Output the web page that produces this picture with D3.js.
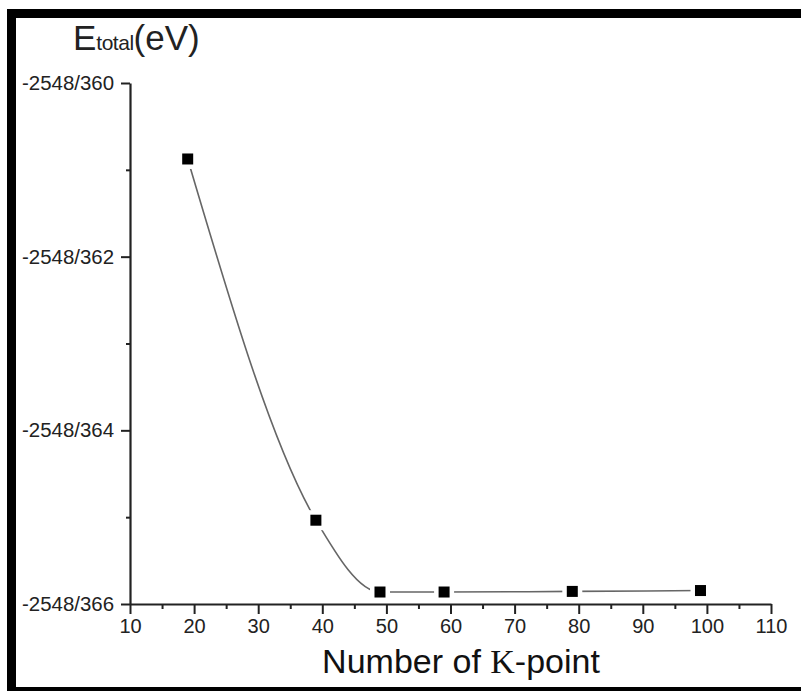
<!DOCTYPE html>
<html>
<head>
<meta charset="utf-8">
<script src="https://cdn.jsdelivr.net/npm/d3@7/dist/d3.min.js"></script>
<style>
html,body{margin:0;padding:0;background:#fff;}
svg{display:block;}
</style>
</head>
<body>
<svg id="chart" width="801" height="691"></svg>
<script>
// Data
const kPoints = [19, 39, 49, 59, 79, 99];
const eTotal = [-2548.360875, -2548.365035, -2548.365862, -2548.365862, -2548.365855, -2548.365845];
const xTickValues = [10, 20, 30, 40, 50, 60, 70, 80, 90, 100, 110];
const xMinorTicks = [15, 25, 35, 45, 55, 65, 75, 85, 95, 105];
const yTickValues = [-2548.366, -2548.364, -2548.362, -2548.360];
const yMinorTicks = [-2548.365, -2548.363, -2548.361];
const xTitle = ["Number of ", "K", "-point"];
const yTitle = ["E", "total", "(eV)"];

const svg = d3.select("#chart");
const font = "'Liberation Sans', Arial, sans-serif";

// frame
svg.append("rect").attr("x", 11.5).attr("y", 13.5).attr("width", 800).attr("height", 678)
  .attr("fill", "#fff").attr("stroke", "#000").attr("stroke-width", 9);

const x = d3.scaleLinear().domain([10, 110]).range([130, 771]);
const y = d3.scaleLinear().domain([-2548.366, -2548.360]).range([604, 83]);

const fmtY = d => d3.format(".3f")(d).replace(".", "/").replace("\u2212", "-");

// curve
const data = kPoints.map((k, i) => ({k, e: eTotal[i]}));
const line = d3.line().x(d => x(d.k)).y(d => y(d.e)).curve(d3.curveMonotoneX);
svg.append("path").datum(data).attr("d", line)
  .attr("fill", "none").attr("stroke", "#666").attr("stroke-width", 1.6);

// gaps around markers
svg.selectAll("rect.gap").data(data).enter().append("rect").attr("class", "gap")
  .attr("x", d => x(d.k) - 10).attr("y", d => y(d.e) - 10)
  .attr("width", 20).attr("height", 20).attr("fill", "#fff");

// x axis
const gx = svg.append("g").attr("transform", "translate(0,604)");
gx.call(d3.axisBottom(x).tickValues(xTickValues).tickSize(10).tickSizeOuter(0).tickPadding(5).tickFormat(d3.format("d")));
gx.select(".domain").attr("stroke", "#222").attr("stroke-width", 2.2);
gx.selectAll(".tick line").attr("stroke", "#222").attr("stroke-width", 2);
gx.selectAll(".tick text").attr("font-family", font).attr("font-size", 20).attr("fill", "#222");
const gxm = svg.append("g").attr("transform", "translate(0,604)");
gxm.call(d3.axisBottom(x).tickValues(xMinorTicks).tickSize(5).tickFormat(""));
gxm.select(".domain").remove();
gxm.selectAll(".tick line").attr("stroke", "#222").attr("stroke-width", 2);

// y axis
const gy = svg.append("g").attr("transform", "translate(130,0)");
gy.call(d3.axisLeft(y).tickValues(yTickValues).tickSize(9).tickSizeOuter(0).tickPadding(7).tickFormat(fmtY));
gy.select(".domain").attr("stroke", "#222").attr("stroke-width", 2.2);
gy.selectAll(".tick line").attr("stroke", "#222").attr("stroke-width", 2);
gy.selectAll(".tick text").attr("font-family", font).attr("font-size", 20).attr("fill", "#222")
  .attr("textLength", 92).attr("lengthAdjust", "spacingAndGlyphs");
const gym = svg.append("g").attr("transform", "translate(130,0)");
gym.call(d3.axisLeft(y).tickValues(yMinorTicks).tickSize(4).tickFormat(""));
gym.select(".domain").remove();
gym.selectAll(".tick line").attr("stroke", "#222").attr("stroke-width", 2);

// markers
svg.selectAll("rect.mk").data(data).enter().append("rect").attr("class", "mk")
  .attr("x", d => x(d.k) - 5.5).attr("y", d => y(d.e) - 5.5)
  .attr("width", 11).attr("height", 11).attr("fill", "#000");

// y title
const yt = svg.append("text").attr("x", 73).attr("y", 50).attr("font-family", font).attr("fill", "#222");
yt.append("tspan").attr("font-size", 35).text(yTitle[0]);
yt.append("tspan").attr("font-size", 21).attr("letter-spacing", -0.5).text(yTitle[1]);
yt.append("tspan").attr("font-size", 35).text(yTitle[2]);

// x title
const xt = svg.append("text").attr("x", 461).attr("y", 673).attr("text-anchor", "middle")
  .attr("font-family", font).attr("font-size", 34).attr("fill", "#111");
xt.append("tspan").text(xTitle[0]);
xt.append("tspan").attr("font-family", "'Liberation Serif', 'Times New Roman', serif").text(xTitle[1]);
xt.append("tspan").text(xTitle[2]);
</script>
</body>
</html>
